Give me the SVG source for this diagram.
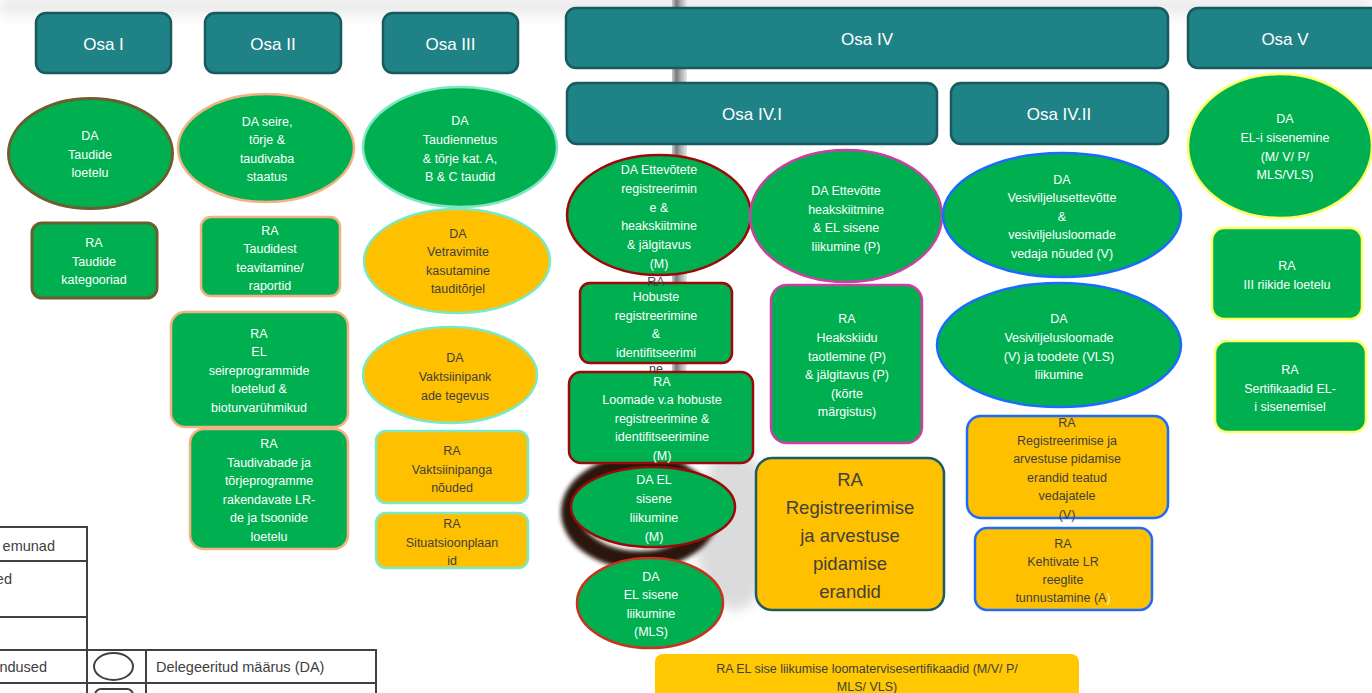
<svg xmlns="http://www.w3.org/2000/svg" width="1372" height="693" viewBox="0 0 1372 693">
<defs>
<style>
.hd{fill:#1f8287;stroke:#185a5e;stroke-width:2.5}
.hdt{font-family:"Liberation Sans",Arial,sans-serif;font-size:17px;fill:#ffffff;text-anchor:middle}
.g{fill:#00b050}
.y{fill:#ffc000}
.t{font-family:"Liberation Sans",Arial,sans-serif;font-size:12.5px;text-anchor:middle}
.w{fill:#ffffff}
.d{fill:#404040}
.olive{stroke:#6b5f2f;stroke-width:3}
.peach{stroke:#f4b183;stroke-width:2.5}
.aqua{stroke:#7de8c4;stroke-width:2.5}
.dred{stroke:#9b0a0a;stroke-width:2.5}
.ored{stroke:#c8321e;stroke-width:2.5}
.mag{stroke:#cc3fa4;stroke-width:2.5}
.blue{stroke:#1c6bff;stroke-width:2.5}
.yel{stroke:#ffff66;stroke-width:2.5}
.dteal{stroke:#1e5c63;stroke-width:2.5}
.lg{stroke:#404040;stroke-width:2;fill:none}
</style>
<linearGradient id="topg" x1="0" y1="0" x2="0" y2="1">
<stop offset="0" stop-color="#d8d8d8"/>
<stop offset="1" stop-color="#ffffff"/>
</linearGradient>
<linearGradient id="barg" x1="0" y1="0" x2="1" y2="0">
<stop offset="0" stop-color="#c8c8c8"/>
<stop offset="0.3" stop-color="#7a7a7a"/>
<stop offset="0.6" stop-color="#b0b0b0"/>
<stop offset="1" stop-color="#e8e8e8"/>
</linearGradient>
<filter id="blur" x="-50%" y="-50%" width="200%" height="200%"><feGaussianBlur stdDeviation="6"/></filter>
<filter id="blur2" x="-50%" y="-50%" width="200%" height="200%"><feGaussianBlur stdDeviation="2"/></filter>
</defs>
<rect x="0" y="0" width="1372" height="693" fill="#ffffff"/>
<g id="background">
<rect x="0" y="0" width="1372" height="22" fill="url(#topg)" filter="url(#blur)" opacity="0.8"/>
<rect x="672" y="0" width="15" height="480" fill="url(#barg)"/>
<ellipse cx="735" cy="530" rx="40" ry="80" fill="#c4c4c4" filter="url(#blur)" opacity="0.6"/>
<ellipse cx="640" cy="512" rx="70" ry="48" fill="none" stroke="#2a1810" stroke-width="18" filter="url(#blur2)"/>
</g>
<g id="connectors"></g>
<g id="osa1"><rect class="hd" x="36" y="13" width="135" height="60" rx="10"/><text class="hdt" x="103.5" y="50">Osa I</text></g>
<g id="osa2"><rect class="hd" x="205" y="13" width="136" height="60" rx="10"/><text class="hdt" x="273" y="50">Osa II</text></g>
<g id="osa3"><rect class="hd" x="383" y="13" width="135" height="60" rx="10"/><text class="hdt" x="450.5" y="50">Osa III</text></g>
<g id="osa4"><rect class="hd" x="566" y="8" width="602" height="60" rx="10"/><text class="hdt" x="867" y="45">Osa IV</text></g>
<g id="osa41"><rect class="hd" x="567" y="83" width="370" height="61" rx="10"/><text class="hdt" x="752" y="120">Osa IV.I</text></g>
<g id="osa42"><rect class="hd" x="951" y="83" width="217" height="61" rx="10"/><text class="hdt" x="1059" y="120">Osa IV.II</text></g>
<g id="osa5"><rect class="hd" x="1188" y="8" width="196" height="60" rx="10"/><text class="hdt" x="1285" y="45">Osa V</text></g>

<g id="da-taudide-loetelu"><ellipse class="g olive" cx="90.5" cy="153.5" rx="82" ry="55"/>
<text class="t w" x="90" y="140">DA</text><text class="t w" x="90" y="159">Taudide</text><text class="t w" x="90" y="177">loetelu</text></g>
<g id="ra-taudide-kategooriad"><rect class="g olive" x="32" y="223" width="125" height="75" rx="10"/>
<text class="t w" x="94" y="247">RA</text><text class="t w" x="94" y="266">Taudide</text><text class="t w" x="94" y="284">kategooriad</text></g>

<g id="da-seire"><ellipse class="g peach" cx="266" cy="148" rx="88" ry="54"/>
<text class="t w" x="267" y="126">DA seire,</text><text class="t w" x="267" y="144">tõrje &amp;</text><text class="t w" x="267" y="163">taudivaba</text><text class="t w" x="267" y="181">staatus</text></g>
<g id="ra-taudidest"><rect class="g peach" x="201" y="217" width="139" height="79" rx="10"/>
<text class="t w" x="270" y="235">RA</text><text class="t w" x="270" y="253">Taudidest</text><text class="t w" x="270" y="272">teavitamine/</text><text class="t w" x="270" y="290">raportid</text></g>
<g id="ra-seireprogrammid"><rect class="g peach" x="171" y="312" width="177" height="115" rx="14"/>
<text class="t w" x="259" y="338">RA</text><text class="t w" x="259" y="356">EL</text><text class="t w" x="259" y="375">seireprogrammide</text><text class="t w" x="259" y="393">loetelud &amp;</text><text class="t w" x="259" y="412">bioturvarühmikud</text></g>
<g id="ra-taudivabad"><rect class="g peach" x="190" y="429" width="158" height="120" rx="14"/>
<text class="t w" x="269" y="448">RA</text><text class="t w" x="269" y="467">Taudivabade ja</text><text class="t w" x="269" y="485">tõrjeprogramme</text><text class="t w" x="269" y="504">rakendavate LR-</text><text class="t w" x="269" y="522">de ja tsoonide</text><text class="t w" x="269" y="541">loetelu</text></g>

<g id="da-taudiennetus"><ellipse class="g aqua" cx="460" cy="147" rx="97" ry="60"/>
<text class="t w" x="460" y="125">DA</text><text class="t w" x="460" y="144">Taudiennetus</text><text class="t w" x="460" y="163">&amp; tõrje kat. A,</text><text class="t w" x="460" y="181">B &amp; C taudid</text></g>
<g id="da-vetravimid"><ellipse class="y aqua" cx="457" cy="261" rx="93" ry="52"/>
<text class="t d" x="458" y="238">DA</text><text class="t d" x="458" y="256">Vetravimite</text><text class="t d" x="458" y="275">kasutamine</text><text class="t d" x="458" y="293">tauditõrjel</text></g>
<g id="da-vaktsiinipangad"><ellipse class="y aqua" cx="450" cy="375" rx="87" ry="48"/>
<text class="t d" x="455" y="362">DA</text><text class="t d" x="455" y="381">Vaktsiinipank</text><text class="t d" x="455" y="400">ade tegevus</text></g>
<g id="ra-vaktsiinipanga"><rect class="y aqua" x="376" y="431" width="152" height="72" rx="10"/>
<text class="t d" x="452" y="455">RA</text><text class="t d" x="452" y="474">Vaktsiinipanga</text><text class="t d" x="452" y="492">nõuded</text></g>
<g id="ra-situatsioonplaanid"><rect class="y aqua" x="376" y="513" width="152" height="55" rx="10"/>
<text class="t d" x="452" y="528">RA</text><text class="t d" x="452" y="547">Situatsioonplaan</text><text class="t d" x="452" y="565">id</text></g>

<g id="da-ettevotete"><ellipse class="g dred" cx="659" cy="215" rx="92" ry="60"/>
<text class="t w" x="659" y="174">DA Ettevõtete</text><text class="t w" x="659" y="193">registreerimin</text><text class="t w" x="659" y="212">e &amp;</text><text class="t w" x="659" y="230">heakskiitmine</text><text class="t w" x="659" y="249">&amp; jälgitavus</text><text class="t w" x="659" y="268">(M)</text></g>
<g id="ra-hobuste"><rect class="g dred" x="580" y="283" width="152" height="80" rx="10"/>
<text class="t d" x="656" y="286">RA</text><text class="t w" x="656" y="301">Hobuste</text><text class="t w" x="656" y="320">registreerimine</text><text class="t w" x="656" y="338">&amp;</text><text class="t w" x="656" y="357">identifitseerimi</text><text class="t d" x="656" y="373">ne</text></g>
<g id="ra-loomade"><rect class="g dred" x="569" y="372" width="184" height="91" rx="12"/>
<text class="t w" x="662" y="386">RA</text><text class="t w" x="662" y="404">Loomade v.a hobuste</text><text class="t w" x="662" y="423">registreerimine &amp;</text><text class="t w" x="662" y="441">identifitseerimine</text><text class="t w" x="662" y="460">(M)</text></g>
<g id="da-el-sisene-m"><ellipse class="g dred" cx="653" cy="507" rx="82" ry="40"/>
<text class="t w" x="654" y="484">DA EL</text><text class="t w" x="654" y="503">sisene</text><text class="t w" x="654" y="522">liikumine</text><text class="t w" x="654" y="541">(M)</text></g>
<g id="da-el-sisene-mls"><ellipse class="g ored" cx="650" cy="603" rx="73" ry="45"/>
<text class="t w" x="651" y="581">DA</text><text class="t w" x="651" y="599">EL sisene</text><text class="t w" x="651" y="618">liikumine</text><text class="t w" x="651" y="636">(MLS)</text></g>

<g id="da-ettevotte-p"><ellipse class="g mag" cx="846" cy="216" rx="96" ry="66"/>
<text class="t w" x="846" y="195">DA Ettevõtte</text><text class="t w" x="846" y="214">heakskiitmine</text><text class="t w" x="846" y="232">&amp; EL sisene</text><text class="t w" x="846" y="251">liikumine (P)</text></g>
<g id="ra-heakskiidu"><rect class="g mag" x="771" y="285" width="151" height="158" rx="16"/>
<text class="t w" x="847" y="323">RA</text><text class="t w" x="847" y="342">Heakskiidu</text><text class="t w" x="847" y="361">taotlemine (P)</text><text class="t w" x="847" y="379">&amp; jälgitavus (P)</text><text class="t w" x="847" y="398">(kõrte</text><text class="t w" x="847" y="416">märgistus)</text></g>
<g id="ra-erandid"><rect class="y dteal" x="756" y="458" width="188" height="152" rx="16"/>
<g style="font-family:'Liberation Sans',Arial,sans-serif;font-size:18.5px;text-anchor:middle;fill:#404040">
<text x="850" y="486">RA</text><text x="850" y="514">Registreerimise</text><text x="850" y="542">ja arvestuse</text><text x="850" y="570">pidamise</text><text x="850" y="598">erandid</text></g></g>

<g id="da-vesiviljelusettevotte"><ellipse class="g blue" cx="1062" cy="215" rx="119" ry="62"/>
<text class="t w" x="1062" y="184">DA</text><text class="t w" x="1062" y="202">Vesiviljelusettevõtte</text><text class="t w" x="1062" y="221">&amp;</text><text class="t w" x="1062" y="239">vesiviljelusloomade</text><text class="t w" x="1062" y="258">vedaja nõuded (V)</text></g>
<g id="da-vesiviljelusloomade"><ellipse class="g blue" cx="1059" cy="345" rx="122" ry="62"/>
<text class="t w" x="1059" y="323">DA</text><text class="t w" x="1059" y="342">Vesiviljelusloomade</text><text class="t w" x="1059" y="361">(V) ja toodete (VLS)</text><text class="t w" x="1059" y="379">liikumine</text></g>
<g id="ra-erandid-vedajad"><rect class="y blue" x="967" y="416" width="201" height="102" rx="14"/>
<text class="t d" x="1067" y="427">RA</text><text class="t d" x="1067" y="445">Registreerimise ja</text><text class="t d" x="1067" y="463">arvestuse pidamise</text><text class="t d" x="1067" y="482">erandid teatud</text><text class="t d" x="1067" y="500">vedajatele</text><text class="t d" x="1067" y="519">(V)</text></g>
<g id="ra-kehtivate"><rect class="y blue" x="975" y="528" width="177" height="82" rx="12"/>
<text class="t d" x="1063" y="548">RA</text><text class="t d" x="1063" y="566">Kehtivate LR</text><text class="t d" x="1063" y="584">reeglite</text><text class="t d" x="1063" y="602">tunnustamine (A<tspan fill="#fff4c0">)</tspan></text></g>

<g id="da-eli-sisenemine"><ellipse class="g yel" cx="1280" cy="146" rx="92" ry="72"/>
<text class="t w" x="1285" y="123">DA</text><text class="t w" x="1285" y="142">EL-i sisenemine</text><text class="t w" x="1285" y="161">(M/ V/ P/</text><text class="t w" x="1285" y="179">MLS/VLS)</text></g>
<g id="ra-iii-riikide"><rect class="g yel" x="1212" y="228" width="150" height="91" rx="12"/>
<text class="t w" x="1287" y="270">RA</text><text class="t w" x="1287" y="289">III riikide loetelu</text></g>
<g id="ra-sertifikaadid"><rect class="g yel" x="1215" y="341" width="151" height="91" rx="12"/>
<text class="t w" x="1290" y="374">RA</text><text class="t w" x="1290" y="393">Sertifikaadid EL-</text><text class="t w" x="1290" y="411">i sisenemisel</text></g>

<g id="ra-el-sise-sertifikaadid"><rect x="655" y="654" width="424" height="50" rx="8" fill="#ffc800"/>
<text class="t d" x="867" y="673">RA EL sise liikumise loomatervisesertifikaadid (M/V/ P/</text><text class="t d" x="867" y="691">MLS/ VLS)</text></g>

<g id="legend">
<path class="lg" d="M0 527 H87 V693 M0 561 H87 M0 617 H87 M0 650 H376 V693 M0 683 H376 M146 650 V693"/>
<ellipse class="lg" cx="113.5" cy="666.5" rx="19.5" ry="13.5"/>
<rect class="lg" x="95" y="689" width="38" height="20" rx="6"/>
<g style="font-family:'Liberation Sans',Arial,sans-serif;font-size:14.5px;fill:#404040">
<text x="55" y="551" text-anchor="end">emunad</text>
<text x="12" y="584" text-anchor="end">ed</text>
<text x="47" y="672" text-anchor="end">ndused</text>
<text x="156" y="672">Delegeeritud määrus (DA)</text></g>
</g>
</svg>
